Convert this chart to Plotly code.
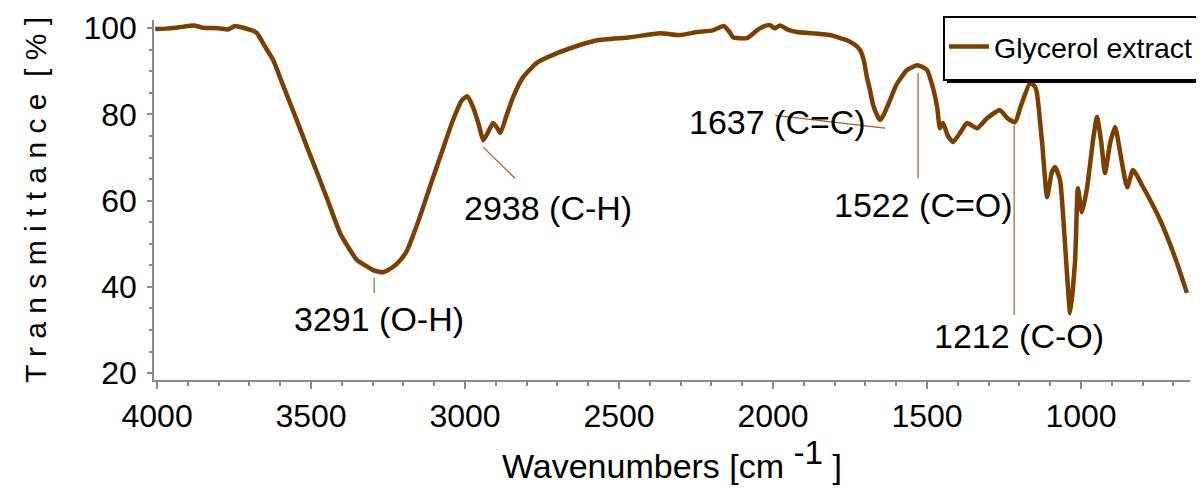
import plotly.graph_objects as go

# ---- data ----
wavenumber = [4006, 3970, 3930, 3880, 3850, 3800, 3770, 3747, 3720, 3698, 3685, 3675,
              3650, 3623, 3595, 3568, 3545, 3513, 3480, 3446, 3406, 3373, 3351, 3320,
              3299, 3266, 3234, 3210, 3188, 3160, 3136, 3110, 3081, 3039, 3010, 2993,
              2974, 2955, 2941, 2925, 2909, 2895, 2885, 2865, 2844, 2812, 2766, 2701,
              2627, 2571, 2464, 2367, 2302, 2247, 2195, 2160, 2140, 2130, 2084, 2052,
              2030, 2010, 1995, 1977, 1950, 1922, 1870, 1815, 1760, 1735, 1717, 1705,
              1695, 1685, 1675, 1660, 1652, 1640, 1620, 1600, 1565, 1532, 1510, 1500,
              1480, 1467, 1458, 1448, 1432, 1415, 1390, 1370, 1337, 1305, 1263, 1240,
              1214, 1195, 1165, 1150, 1143, 1126, 1110, 1095, 1084, 1068, 1050, 1035,
              1019, 1010, 997, 980, 960, 948, 935, 922, 905, 889, 870, 850, 831, 798,
              743, 688, 656]
transmittance = [99.8, 99.9, 100.2, 100.6, 100.1, 100.0, 99.7, 100.5, 100.1, 99.6, 99.3, 98.8,
                 95.8, 92.6, 87.5, 82.6, 78.4, 72.4, 66.4, 60.1, 52.5, 48.5, 46.2, 44.8,
                 43.9, 43.4, 44.6, 46.2, 48.5, 53.6, 58.5, 64.1, 70.1, 78.7, 83.3, 84.2,
                 81.7, 77.5, 74.0, 75.9, 78.0, 76.8, 75.7, 79.8, 84.0, 88.6, 92.0, 94.2,
                 96.1, 97.2, 97.9, 98.8, 98.4, 99.1, 99.5, 100.5, 99.0, 97.9, 97.7, 99.5,
                 100.4, 100.7, 100.0, 100.6, 99.6, 99.1, 98.8, 98.4, 97.2, 96.2, 94.9, 92.5,
                 88.6, 85.6, 82.2, 79.5, 78.7, 80.0, 83.3, 86.8, 90.3, 91.4, 90.8, 90.3,
                 86.0, 81.7, 76.8, 78.0, 75.0, 73.6, 76.0, 78.0, 76.8, 79.1, 81.0, 79.2,
                 78.2, 82.0, 87.3, 86.5, 84.9, 73.3, 60.8, 66.5, 67.8, 64.8, 48.0, 33.9,
                 46.2, 62.9, 57.3, 63.1, 74.5, 79.4, 74.0, 66.4, 73.5, 77.1, 70.0, 63.1, 67.1, 63.1,
                 55.5, 45.5, 38.6]

series_name = "Glycerol extract"

# peak labels
label_text = ["3291 (O-H)", "2938 (C-H)", "1637 (C=C)", "1522 (C=O)", "1212 (C-O)"]
label_x = [3279, 2730, 1987, 1510, 1201]
label_y = [32.5, 58.3, 78.2, 59.0, 28.6]

# leader lines (x0, y0, x1, y1) in data units
leader_x0 = [3295, 2941, 1993, 1529, 1217]
leader_y0 = [42.1, 72.4, 79.8, 89.6, 77.5]
leader_x1 = [3295, 2838, 1636, 1529, 1217]
leader_y1 = [38.6, 65.2, 76.8, 65.2, 33.5]

x_tickvals = [4000, 3500, 3000, 2500, 2000, 1500, 1000]
y_tickvals = [20, 40, 60, 80, 100]

FONT = "Liberation Sans, Arial, sans-serif"
BROWN = "#7B3F00"
LEADER = "#A0602D"
AXIS = "#8a8a8a"

fig = go.Figure()
fig.add_trace(go.Scatter(
    x=wavenumber, y=transmittance, mode="lines", name=series_name,
    line=dict(color=BROWN, width=4.5, shape="spline", smoothing=0.5),
    showlegend=True,
))

for x0, y0, x1, y1 in zip(leader_x0, leader_y0, leader_x1, leader_y1):
    fig.add_shape(type="line", xref="x", yref="y", x0=x0, y0=y0, x1=x1, y1=y1,
                  line=dict(color=LEADER, width=1.2), layer="above")

for t, x, y in zip(label_text, label_x, label_y):
    fig.add_annotation(x=x, y=y, xref="x", yref="y", text=t, showarrow=False,
                       font=dict(family=FONT, size=34, color="black"),
                       xanchor="center", yanchor="middle")

# legend frame: shadow, then white box with black border (legend text drawn on top)
fig.add_shape(type="rect", xref="paper", yref="paper",
              x0=(947 - 154) / 1036, x1=1.08, y0=(380 - 83) / 360, y1=(380 - 20) / 360,
              fillcolor="black", line=dict(width=0), layer="above")
fig.add_shape(type="rect", xref="paper", yref="paper",
              x0=(944 - 154) / 1036, x1=1.08, y0=(380 - 80) / 360, y1=(380 - 17) / 360,
              fillcolor="white", line=dict(color="black", width=2), layer="above")

# the page adds an 8 px body margin, so the figure is 8 px smaller on each side
fig.update_layout(
    width=1196, height=483,
    margin=dict(l=146, r=14, t=12, b=111, autoexpand=False),
    paper_bgcolor="white", plot_bgcolor="white",
    font=dict(family=FONT, size=32, color="black"),
    legend=dict(x=(944 - 154) / 1036, y=(380 - 47) / 360, xanchor="left", yanchor="middle",
                bgcolor="rgba(0,0,0,0)", borderwidth=0, itemwidth=40,
                font=dict(family=FONT, size=28.5, color="black")),
    xaxis=dict(
        range=[4010, 646], tickvals=x_tickvals, ticks="outside", ticklen=7,
        tickcolor=AXIS, tickwidth=1.5, showline=True, linecolor=AXIS, linewidth=1.5,
        showgrid=False, zeroline=False, tickfont=dict(family=FONT, size=32),
        minor=dict(dtick=100, tick0=0, ticks="outside", ticklen=4, tickcolor=AXIS, showgrid=False),
        title=dict(text="Wavenumbers [cm <sup><span style='font-size:140%'>-1</span></sup> ]",
                   font=dict(family=FONT, size=34), standoff=4),
    ),
    yaxis=dict(
        range=[18.4, 101.9], tickvals=y_tickvals, ticks="outside", ticklen=5,
        tickcolor=AXIS, tickwidth=1.5, showline=True, linecolor=AXIS, linewidth=1.5,
        showgrid=False, zeroline=False, tickfont=dict(family=FONT, size=32),
        ticklabelstandoff=4,
        minor=dict(dtick=5, tick0=0, ticks="outside", ticklen=3, tickcolor=AXIS, showgrid=False),
        title=dict(text="T r a n s m i t t a n c e  [ % ]", font=dict(family=FONT, size=30),
                   standoff=28),
    ),
)

fig.write_html("out.html")
